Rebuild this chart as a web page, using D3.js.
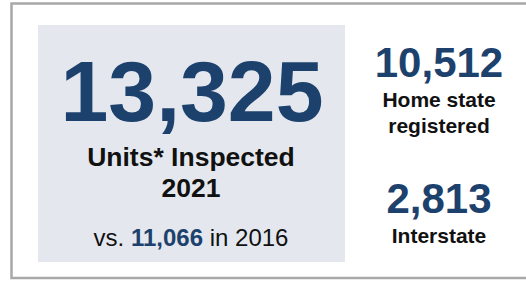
<!DOCTYPE html>
<html>
<head>
<meta charset="utf-8">
<script src="https://cdn.jsdelivr.net/npm/d3@7"></script>
<style>
  html, body { margin: 0; background: #fff; overflow: hidden; }
  svg { display: block; }
  text { font-family: "Liberation Sans", Arial, sans-serif; }
</style>
</head>
<body>
<div id="chart"></div>
<script>
// headline numbers
var totalValue = 13325,
    totalLabel = ["Units* Inspected", "2021"],
    prevValue = 11066,
    prevYear = 2016;

// breakdown on the right
var splitValues = [10512, 2813],
    splitLabels = [["Home state", "registered"], ["Interstate"]];

var width = 526, height = 281,
    navy = "#1d416d",
    fmt = d3.format(",");

var svg = d3.select("#chart").append("svg")
    .attr("width", width)
    .attr("height", height);

// outer frame: left, top and bottom only, the right side is cut off
svg.append("path")
    .attr("d", "M" + width + ",3.5H11.5V278H" + width)
    .attr("fill", "none")
    .attr("stroke", "#a8a8a8")
    .attr("stroke-width", 2.5);

// grey panel for the headline figure
var main = svg.append("g");
main.append("rect")
    .attr("x", 38).attr("y", 25)
    .attr("width", 307).attr("height", 237)
    .attr("fill", "#e4e8ee");

var cx = 192;
main.append("text")
    .attr("x", cx).attr("y", 120.5)
    .attr("text-anchor", "middle")
    .attr("font-size", 86).attr("font-weight", "bold")
    .attr("fill", navy)
    .text(fmt(totalValue));

main.selectAll("text.lbl")
    .data(totalLabel)
    .enter().append("text")
    .attr("class", "lbl")
    .attr("x", 191)
    .attr("y", function(d, i) { return 166 + i * 31; })
    .attr("text-anchor", "middle")
    .attr("font-size", 26.5).attr("font-weight", "bold")
    .attr("fill", "#111")
    .text(function(d) { return d; });

var vs = main.append("text")
    .attr("x", 191).attr("y", 246)
    .attr("text-anchor", "middle")
    .attr("font-size", 24)
    .attr("fill", "#111");
vs.append("tspan").text("vs. ");
vs.append("tspan").attr("font-weight", "bold").attr("fill", navy).text(fmt(prevValue));
vs.append("tspan").text(" in " + prevYear);

// right-hand breakdown
var rx = 439,
    blockY = [77, 213];

var blocks = svg.selectAll("g.split")
    .data(splitValues)
    .enter().append("g")
    .attr("class", "split")
    .attr("transform", function(d, i) { return "translate(" + rx + "," + blockY[i] + ")"; });

blocks.append("text")
    .attr("text-anchor", "middle")
    .attr("font-size", 42).attr("font-weight", "bold")
    .attr("fill", navy)
    .text(function(d) { return fmt(d); });

blocks.each(function(d, i) {
    d3.select(this).selectAll("text.sub")
        .data(splitLabels[i])
        .enter().append("text")
        .attr("class", "sub")
        .attr("y", function(s, j) { return 30 + j * 26; })
        .attr("text-anchor", "middle")
        .attr("font-size", 21).attr("font-weight", "bold")
        .attr("fill", "#111")
        .text(function(s) { return s; });
});
</script>
</body>
</html>
